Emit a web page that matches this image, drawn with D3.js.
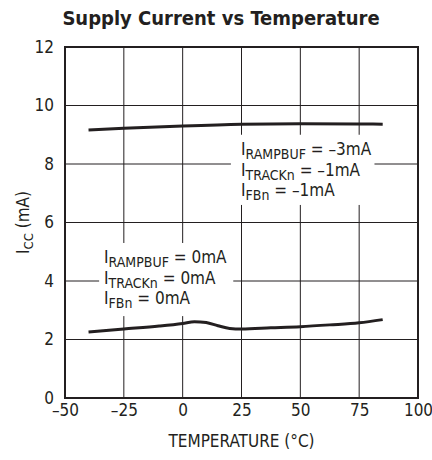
<!DOCTYPE html>
<html>
<head>
<meta charset="utf-8">
<script src="https://cdn.jsdelivr.net/npm/d3@7"></script>
<style>
  body { margin: 0; background: #fff; }
  svg text { font-family: "DejaVu Sans Condensed", "Liberation Sans", sans-serif; fill: #231f20; }
</style>
</head>
<body>
<div id="chart"></div>
<script>
// tick values
var xTicks = [-50, -25, 0, 25, 50, 75, 100];
var yTicks = [0, 2, 4, 6, 8, 10, 12];

// upper curve: IRAMPBUF = -3mA, ITRACKn = -1mA, IFBn = -1mA
var tempHigh = [-40, -25, 0, 25, 50, 75, 85];
var iccHigh = [9.16, 9.22, 9.30, 9.36, 9.38, 9.37, 9.36];

// lower curve: all 0mA
var tempLow = [-40, -25, -10, 0, 5, 10, 15, 20, 25, 37.5, 50, 62.5, 75, 85];
var iccLow = [2.26, 2.36, 2.46, 2.55, 2.61, 2.58, 2.47, 2.38, 2.36, 2.40, 2.44, 2.50, 2.57, 2.68];

// annotation text, [main, subscript, rest]
var labelHigh = [["I", "RAMPBUF", " = \u20133mA"], ["I", "TRACKn", " = \u20131mA"], ["I", "FBn", " = \u20131mA"]];
var labelLow = [["I", "RAMPBUF", " = 0mA"], ["I", "TRACKn", " = 0mA"], ["I", "FBn", " = 0mA"]];

var width = 432, height = 460;
var margin = {left: 65, right: 14, top: 47, bottom: 62};

var svg = d3.select("#chart").append("svg")
    .attr("width", width)
    .attr("height", height);

var x = d3.scaleLinear().domain([-50, 100]).range([margin.left, width - margin.right]);
var y = d3.scaleLinear().domain([0, 12]).range([height - margin.bottom, margin.top]);

// grid
svg.append("g").selectAll("line.v")
    .data(xTicks.slice(1, -1))
    .enter().append("line")
    .attr("x1", function(d) { return x(d); })
    .attr("x2", function(d) { return x(d); })
    .attr("y1", y(0)).attr("y2", y(12))
    .attr("stroke", "#231f20").attr("stroke-width", 1);

svg.append("g").selectAll("line.h")
    .data(yTicks.slice(1, -1))
    .enter().append("line")
    .attr("y1", function(d) { return y(d); })
    .attr("y2", function(d) { return y(d); })
    .attr("x1", x(-50)).attr("x2", x(100))
    .attr("stroke", "#231f20").attr("stroke-width", 1);

// white boxes behind the annotations
var boxes = [
    {x0: 20.5, x1: 81.5, y0: 9.0, y1: 6.6},
    {x0: -35.5, x1: 21.5, y0: 5.3, y1: 2.8}
];
svg.append("g").selectAll("rect")
    .data(boxes)
    .enter().append("rect")
    .attr("x", function(d) { return x(d.x0); })
    .attr("y", function(d) { return y(d.y0); })
    .attr("width", function(d) { return x(d.x1) - x(d.x0); })
    .attr("height", function(d) { return y(d.y1) - y(d.y0); })
    .attr("fill", "#fff");

// frame
svg.append("rect")
    .attr("x", x(-50)).attr("y", y(12))
    .attr("width", x(100) - x(-50))
    .attr("height", y(0) - y(12))
    .attr("fill", "none")
    .attr("stroke", "#231f20")
    .attr("stroke-width", 2);

// curves
var line = d3.line()
    .x(function(d) { return x(d[0]); })
    .y(function(d) { return y(d[1]); })
    .curve(d3.curveMonotoneX);

[[tempHigh, iccHigh], [tempLow, iccLow]].forEach(function(s) {
    svg.append("path")
        .attr("d", line(d3.zip(s[0], s[1])))
        .attr("fill", "none")
        .attr("stroke", "#231f20")
        .attr("stroke-width", 3);
});

// axes tick labels
var xAxis = d3.axisBottom(x).tickValues(xTicks).tickSize(0).tickPadding(6)
    .tickFormat(function(d) { return d < 0 ? "\u2013" + Math.abs(d) : d; });
var gx = svg.append("g").attr("transform", "translate(0," + y(0) + ")").call(xAxis);
gx.select(".domain").remove();
gx.selectAll("text").attr("font-size", 17).attr("fill", "#231f20").attr("dy", "0.71em");

var yAxis = d3.axisLeft(y).tickValues(yTicks).tickSize(0).tickPadding(11);
var gy = svg.append("g").attr("transform", "translate(" + x(-50) + ",0)").call(yAxis);
gy.select(".domain").remove();
gy.selectAll("text").attr("font-size", 17).attr("fill", "#231f20");
gx.attr("font-family", null);
gy.attr("font-family", null);

// title
svg.append("text")
    .attr("x", 221).attr("y", 25)
    .attr("text-anchor", "middle")
    .attr("font-size", 20)
    .attr("font-weight", "bold")
    .text("Supply Current vs Temperature");

// axis titles
svg.append("text")
    .attr("x", x(25)).attr("y", 447)
    .attr("text-anchor", "middle")
    .attr("font-size", 17)
    .text("TEMPERATURE (\u00b0C)");

var yt = svg.append("text")
    .attr("transform", "translate(29," + y(6) + ") rotate(-90)")
    .attr("text-anchor", "middle")
    .attr("font-size", 17);
yt.append("tspan").text("I");
yt.append("tspan").attr("font-size", 13).attr("dy", 4).text("CC");
yt.append("tspan").attr("dy", -4).text(" (mA)");

// annotations
function annotate(lines, tx, ty) {
    lines.forEach(function(l, i) {
        var t = svg.append("text")
            .attr("x", x(tx))
            .attr("y", y(ty) + i * 20.5)
            .attr("font-size", 17);
        t.append("tspan").text(l[0]);
        t.append("tspan").attr("font-size", 14).attr("dy", 4).text(l[1]);
        t.append("tspan").attr("dy", -4).text(l[2]);
    });
}
annotate(labelHigh, 24.8, 8.3);
annotate(labelLow, -33.4, 4.6);
</script>
</body>
</html>
